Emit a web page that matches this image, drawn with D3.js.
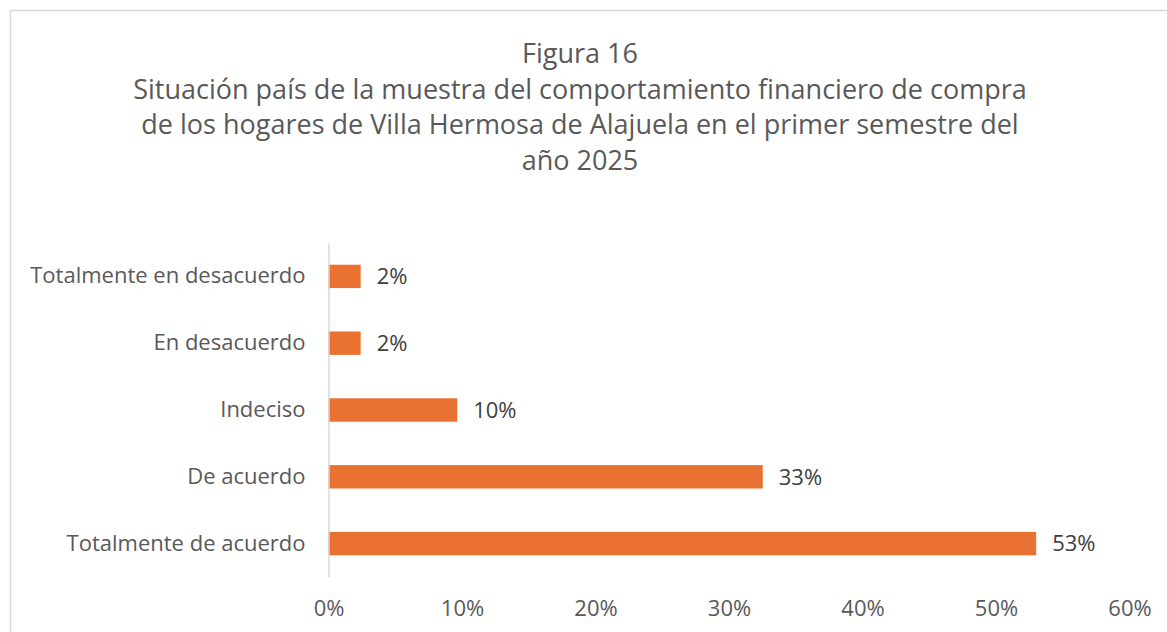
<!DOCTYPE html>
<html>
<head>
<meta charset="utf-8">
<script src="https://cdn.jsdelivr.net/npm/d3@7"></script>
<style>
  body { margin: 0; background: #fff; }
  svg { display: block; font-family: "Open Sans", "Liberation Sans", Arial, sans-serif; }
</style>
</head>
<body>
<script>
var categories = ["Totalmente en desacuerdo", "En desacuerdo", "Indeciso", "De acuerdo", "Totalmente de acuerdo"];
var values = [2.41, 2.41, 9.64, 32.53, 53.01];
var ticks = [0, 10, 20, 30, 40, 50, 60];
var titleLines = [
  "Figura 16",
  "Situación país de la muestra del comportamiento financiero de compra",
  "de los hogares de Villa Hermosa de Alajuela en el primer semestre del",
  "año 2025"
];

var width = 1167, height = 632;
var margin = { top: 243, left: 328.5, right: 37.5, bottom: 55 };

var svg = d3.select("body").append("svg")
    .attr("width", width)
    .attr("height", height);

// chart frame (cropped at right and bottom)
svg.append("rect")
    .attr("x", 10.5).attr("y", 10.5)
    .attr("width", width + 20).attr("height", height + 20)
    .attr("fill", "none")
    .attr("stroke", "#d9d9d9")
    .attr("stroke-width", 1.5);

svg.append("g")
    .selectAll("text")
    .data(titleLines)
    .enter().append("text")
    .attr("x", 580)
    .attr("y", function(d, i) { return 63 + i * 35.6; })
    .attr("text-anchor", "middle")
    .attr("fill", "#595959")
    .style("font-size", "27px")
    .text(function(d) { return d; });

var x = d3.scaleLinear()
    .domain([0, 60])
    .range([margin.left, width - margin.right]);

var y = d3.scaleBand()
    .domain(categories)
    .range([margin.top, height - margin.bottom])
    .paddingInner(0.65)
    .paddingOuter(0.325);

// bars
svg.append("g")
    .selectAll("rect")
    .data(values)
    .enter().append("rect")
    .attr("x", x(0))
    .attr("y", function(d, i) { return y(categories[i]); })
    .attr("width", function(d) { return x(d) - x(0); })
    .attr("height", y.bandwidth())
    .attr("fill", "#e97132");

// value labels
svg.append("g")
    .selectAll("text")
    .data(values)
    .enter().append("text")
    .attr("x", function(d) { return x(d) + 16; })
    .attr("y", function(d, i) { return y(categories[i]) + y.bandwidth() / 2; })
    .attr("dy", "0.35em")
    .attr("fill", "#404040")
    .style("font-size", "22px")
    .text(function(d) { return Math.round(d) + "%"; });

// y axis
var yAxis = svg.append("g")
    .attr("transform", "translate(" + x(0) + ",0)")
    .call(d3.axisLeft(y).tickSize(0).tickPadding(23));
yAxis.select(".domain").attr("stroke", "#d9d9d9").attr("stroke-width", 1.5);
yAxis.selectAll("text")
    .attr("fill", "#595959")
    .style("font-size", "22px")
    .style("font-family", "Open Sans, Liberation Sans, Arial, sans-serif");

// x axis (labels only)
var xAxis = svg.append("g")
    .attr("transform", "translate(0," + (height - margin.bottom) + ")")
    .call(d3.axisBottom(x).tickValues(ticks).tickSize(0).tickPadding(23)
      .tickFormat(function(d) { return d + "%"; }));
xAxis.select(".domain").remove();
xAxis.selectAll("text")
    .attr("fill", "#595959")
    .style("font-size", "22px")
    .style("font-family", "Open Sans, Liberation Sans, Arial, sans-serif");
</script>
</body>
</html>
